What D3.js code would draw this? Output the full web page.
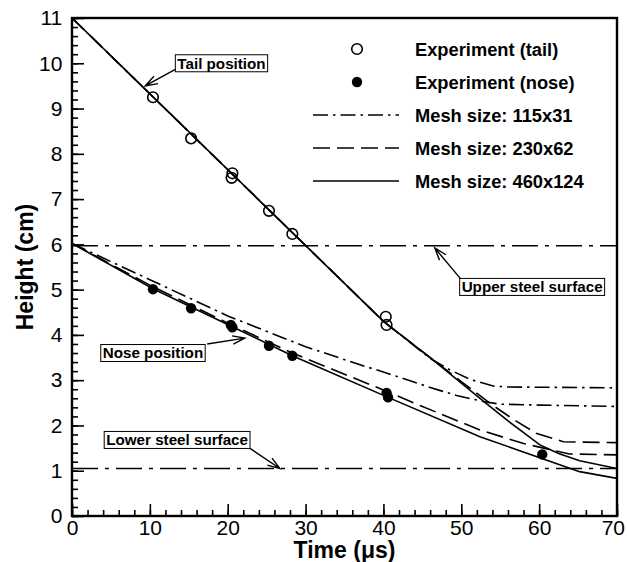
<!DOCTYPE html>
<html lang="en">
<head>
<meta charset="UTF-8">
<title>Height vs time</title>
<script src="https://d3js.org/d3.v7.min.js"></script>
<style>
html, body { margin: 0; padding: 0; background: #fff; }
svg { display: block; font-family: 'Liberation Sans', Arial, sans-serif; }
.tick-label { font-size: 21px; fill: #000; }
.axis-title { font-size: 23px; font-weight: bold; fill: #000; }
.legend-text { font-size: 18.3px; font-weight: bold; fill: #000; }
.note { font-size: 15.2px; font-weight: bold; fill: #000; }
</style>
</head>
<body>
<svg id="canvas"></svg>
<script>
// experiment points
let tailTime   = [10.4, 15.3, 20.5, 20.6, 25.3, 28.3, 40.3, 40.4]
let tailHeight = [9.25, 8.34, 7.47, 7.57, 6.74, 6.23, 4.40, 4.22]
let noseTime   = [10.4, 15.3, 20.4, 20.6, 25.3, 28.3, 40.4, 40.6, 60.4]
let noseHeight = [5.01, 4.59, 4.22, 4.17, 3.76, 3.54, 2.72, 2.62, 1.36]

// simulations
let m115TailT = [0, 40, 46, 48.5, 51.1, 54.1, 56, 70]
let m115TailH = [11, 4.3, 3.48, 3.23, 3.02, 2.87, 2.85, 2.83]
let m115NoseT = [0, 5, 10, 20, 30, 37, 40, 46, 49.4, 52.8, 55, 60, 70]
let m115NoseH = [6.02, 5.62, 5.22, 4.42, 3.74, 3.34, 3.18, 2.84, 2.66, 2.53, 2.47, 2.45, 2.42]
let m230TailT = [0, 40, 46, 50, 54, 57, 59.6, 63.1, 70]
let m230TailH = [11, 4.3, 3.5, 2.97, 2.45, 2.1, 1.83, 1.64, 1.62]
let m230NoseT = [0, 10, 20, 28.3, 40.6, 44.7, 52.4, 58, 63.9, 70]
let m230NoseH = [6.02, 5.1, 4.26, 3.6, 2.74, 2.44, 1.9, 1.6, 1.37, 1.35]
let m460TailT = [0, 40, 46, 52.4, 56, 60.1, 62.5, 65.2, 70]
let m460TailH = [11, 4.3, 3.5, 2.6, 2.1, 1.57, 1.38, 1.22, 1.05]
let m460NoseT = [0, 10.4, 20.6, 28.3, 40.6, 52.4, 65.2, 70]
let m460NoseH = [6.02, 5.02, 4.18, 3.54, 2.62, 1.75, 0.98, 0.83]

let upperSteel = 5.97
let lowerSteel = 1.05

let legendLabels = ['Experiment (tail)', 'Experiment (nose)', 'Mesh size: 115x31', 'Mesh size: 230x62', 'Mesh size: 460x124']

// annotation text, box centre (t, h), arrow tip (t, h)
let noteText = ['Tail position', 'Nose position', 'Upper steel surface', 'Lower steel surface']
let noteBox  = [[19.2, 10.0], [10.4, 3.6], [59.1, 5.06], [13.5, 1.68]]
let noteTip  = [[9.4, 9.5], [22.2, 3.93], [46.6, 5.92], [26.7, 1.05]]

let width = 627
let height = 562
let plotL = 72, plotR = 617, plotT = 18, plotB = 516

let svg = d3.select('svg').attr('width', width).attr('height', height)

let x = d3.scaleLinear().domain([0, 70]).range([plotL, plotR])
let y = d3.scaleLinear().domain([0, 11]).range([plotB, plotT])

let dashDot = '15,5,2.5,5'
let dashed = '17,7'

let zip = (a, b) => a.map((v, i) => [v, b[i]])
let line = d3.line().x(d => x(d[0])).y(d => y(d[1]))

svg.append('clipPath').attr('id', 'clip')
    .append('rect').attr('x', plotL).attr('y', plotT).attr('width', plotR - plotL).attr('height', plotB - plotT)

let plot = svg.append('g').attr('clip-path', 'url(#clip)')

// steel surfaces
let steelDash = '26,7,4,7'
;[upperSteel, lowerSteel].forEach(v => {
    plot.append('path')
        .attr('d', line([[0, v], [70, v]]))
        .attr('fill', 'none').attr('stroke', '#000').attr('stroke-width', 1.6)
        .attr('stroke-dasharray', steelDash)
})

let series = [
    [m115TailT, m115TailH, dashDot],
    [m115NoseT, m115NoseH, dashDot],
    [m230TailT, m230TailH, dashed],
    [m230NoseT, m230NoseH, dashed],
    [m460TailT, m460TailH, null],
    [m460NoseT, m460NoseH, null]
]

series.forEach(s => {
    plot.append('path')
        .attr('d', line(zip(s[0], s[1])))
        .attr('fill', 'none')
        .attr('stroke', '#000')
        .attr('stroke-width', 1.6)
        .attr('stroke-dasharray', s[2])
})

// experiments
plot.selectAll('.tailpt')
    .data(zip(tailTime, tailHeight))
    .enter().append('circle')
    .attr('cx', d => x(d[0])).attr('cy', d => y(d[1]))
    .attr('r', 5.3).attr('fill', 'none').attr('stroke', '#000').attr('stroke-width', 1.6)

plot.selectAll('.nosept')
    .data(zip(noseTime, noseHeight))
    .enter().append('circle')
    .attr('cx', d => x(d[0])).attr('cy', d => y(d[1]))
    .attr('r', 5.2).attr('fill', '#000')

// axes, ticks inward
let xAxis = d3.axisBottom(x).tickValues(d3.range(0, 71, 10)).tickSize(-12).tickPadding(4).tickFormat(d3.format('d'))
let xMinor = d3.axisBottom(x).tickValues(d3.range(0, 71, 2)).tickSize(-6).tickFormat('')
let yAxis = d3.axisLeft(y).tickValues(d3.range(0, 12, 1)).tickSize(-12).tickPadding(16).tickFormat(d3.format('d'))
let yMinor = d3.axisLeft(y).tickValues(d3.range(0, 11.01, 0.2)).tickSize(-6).tickFormat('')

svg.append('g').attr('transform', 'translate(0,' + plotB + ')').call(xMinor)
svg.append('g').attr('transform', 'translate(0,' + plotB + ')').call(xAxis).attr('id', 'x-axis')
svg.append('g').attr('transform', 'translate(' + plotL + ',0)').call(yMinor)
svg.append('g').attr('transform', 'translate(' + plotL + ',0)').call(yAxis).attr('id', 'y-axis')

svg.selectAll('.domain').remove()
svg.selectAll('.tick line').attr('stroke', '#000').attr('stroke-width', 1.6)
svg.selectAll('.tick text').attr('class', 'tick-label').attr('font-family', null).attr('font-size', null)
svg.selectAll('#y-axis .tick text').attr('dx', '0.3em')
svg.selectAll('#x-axis .tick text').filter(d => d === 70).attr('dx', '-0.2em')

// frame
svg.append('rect')
    .attr('x', plotL).attr('y', plotT).attr('width', plotR - plotL).attr('height', plotB - plotT)
    .attr('fill', 'none').attr('stroke', '#000').attr('stroke-width', 2.4)

svg.append('text').attr('class', 'axis-title')
    .attr('x', (plotL + plotR) / 2).attr('y', 558).attr('text-anchor', 'middle')
    .text('Time (\u03bcs)')

svg.append('text').attr('class', 'axis-title')
    .attr('transform', 'translate(33,' + ((plotT + plotB) / 2) + ') rotate(-90)')
    .attr('text-anchor', 'middle')
    .text('Height (cm)')

// legend
let legend = svg.append('g')
let rowY = [49, 82, 115, 148, 181]
legendLabels.forEach((lab, i) => {
    legend.append('text').attr('class', 'legend-text')
        .attr('x', 415).attr('y', rowY[i]).attr('dy', '0.36em').text(lab)
})
legend.append('circle').attr('cx', 357).attr('cy', rowY[0]).attr('r', 5.3)
    .attr('fill', 'none').attr('stroke', '#000').attr('stroke-width', 1.6)
legend.append('circle').attr('cx', 357).attr('cy', rowY[1]).attr('r', 5.2).attr('fill', '#000')
;[dashDot, dashed, null].forEach((dash, i) => {
    legend.append('line')
        .attr('x1', 313).attr('x2', 399).attr('y1', rowY[i + 2]).attr('y2', rowY[i + 2])
        .attr('stroke', '#000').attr('stroke-width', 1.6).attr('stroke-dasharray', dash)
})

// annotations
noteText.forEach((txt, i) => {
    let cx = x(noteBox[i][0]), cy = y(noteBox[i][1])
    let g = svg.append('g')
    let t = g.append('text').attr('class', 'note')
        .attr('x', cx).attr('y', cy).attr('dy', '0.36em').attr('text-anchor', 'middle').text(txt)
    let bb = t.node().getBBox()
    g.insert('rect', 'text')
        .attr('x', bb.x - 2).attr('y', cy - 8.5).attr('width', bb.width + 4).attr('height', 17)
        .attr('fill', '#fff').attr('stroke', '#000').attr('stroke-width', 1)

    // arrow start near the box
    let tx = x(noteTip[i][0]), ty = y(noteTip[i][1])
    let sx = tx < bb.x ? bb.x - 2 : (tx > bb.x + bb.width ? bb.x + bb.width + 2 : tx)
    let sy = ty < cy - 8.5 ? cy - 8.5 : (ty > cy + 8.5 ? cy + 8.5 : cy)
    if (i === 0) { sx = bb.x - 2; sy = cy + 6 }
    if (i === 1) { sx = bb.x + bb.width + 4; sy = cy - 9 }
    if (i === 2) { sx = bb.x - 1; sy = cy - 8 }
    let ang = Math.atan2(ty - sy, tx - sx)
    let hl = 13, ha = 0.33
    g.append('path')
        .attr('d', 'M' + sx + ',' + sy + 'L' + tx + ',' + ty +
            'M' + (tx - hl * Math.cos(ang - ha)) + ',' + (ty - hl * Math.sin(ang - ha)) +
            'L' + tx + ',' + ty +
            'L' + (tx - hl * Math.cos(ang + ha)) + ',' + (ty - hl * Math.sin(ang + ha)))
        .attr('fill', 'none').attr('stroke', '#000').attr('stroke-width', 1.4)
})
</script>
</body>
</html>
